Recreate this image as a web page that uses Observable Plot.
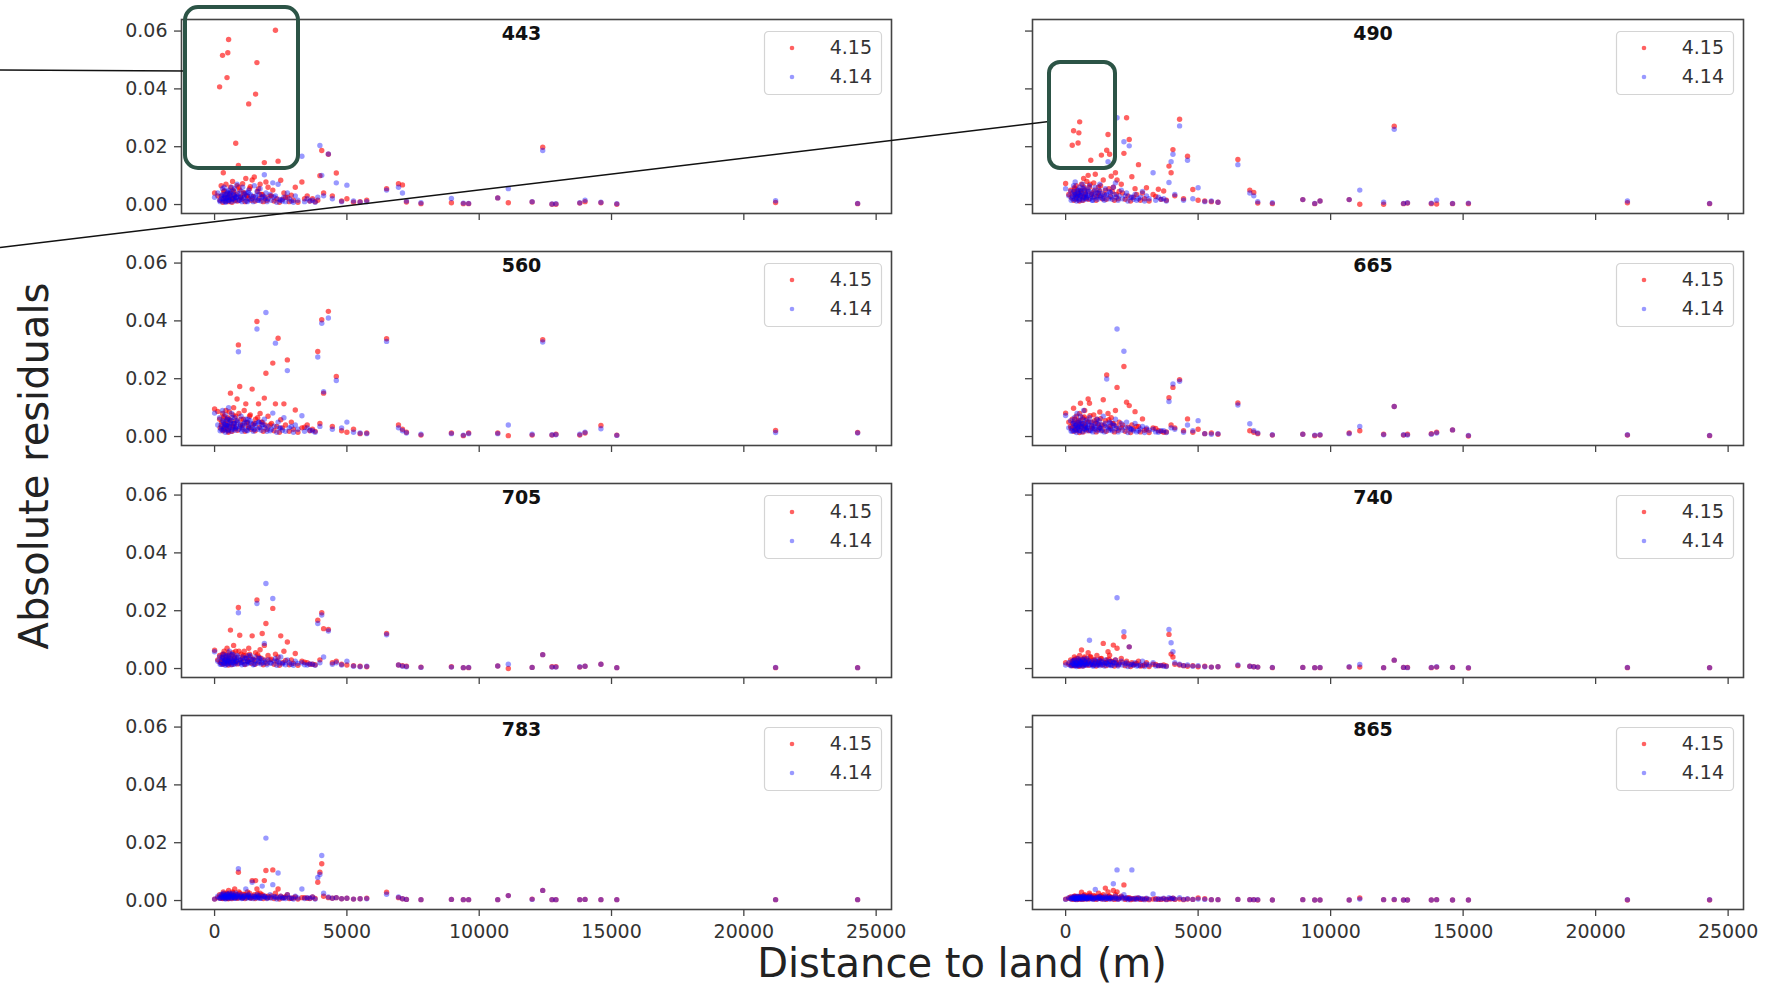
<!DOCTYPE html>
<html>
<head>
<meta charset="utf-8">
<script src="https://cdn.jsdelivr.net/npm/d3@7"></script>
<script src="https://cdn.jsdelivr.net/npm/@observablehq/plot@0.6"></script>
<style>
  body { margin: 0; background: #fff; }
  #fig { position: relative; width: 1775px; height: 989px; overflow: hidden; background: #fff; font-family: "DejaVu Sans", sans-serif; }
  .panel { position: absolute; }
  .panel svg { display: block; max-width: none !important; }
  #overlay { position: absolute; left: 0; top: 0; pointer-events: none; }
</style>
</head>
<body>
<div id="fig"></div>
<script>
// ---------------- data ----------------
// Distance to land (m) of each match-up station (shared by all panels)
const distance = [0,120,190,250,300,330,360,400,430,470,500,530,560,600,640,680,720,760,800,850,
  900,950,1000,1060,1120,1180,1240,1290,1350,1420,1500,1550,1600,1660,1720,1800,1880,1940,2020,2100,
  2200,2300,2400,2500,2620,2750,2900,3050,3300,3500,3700,3900,3980,4050,4120,4300,4450,4600,4800,5000,
  5250,5500,5750,6500,6950,7100,7250,7800,8950,9400,9600,10700,11100,12000,12400,12750,12900,13800,14000,14600,
  15200,21200,24300,
  210,270,310,350,380,410,450,490,520,550,580,620,660,700,740,780,820,870,920,980,
  1030,1090,1150,1210,1270,1320,1380,1460,1530,1630,1690,1760,1840,1910,1980,2150,2250,2350,2450,2560,
  2680,2820,2980,3150,3400,3600,3800];

const bands = ["443","490","560","665","705","740","783","865"];
const seriesNames = ["4.15","4.14"];
const seriesColors = ["rgba(255,0,0,0.62)","rgba(0,0,255,0.40)"];

// Absolute residuals, version 4.15 (red) and 4.14 (blue), per band (same station order as distance)
const v415_443 = [.0040,.0030,.0407,.0065,.0516,.0110,.0048,.0025,.0070,.0439,
  .0525,.0571,.0035,.0060,.0020,.0080,.0045,.0030,.0212,.0065,
  .0135,.0050,.0025,.0072,.0040,.0090,.0030,.0348,.0062,.0085,
  .0095,.0382,.0491,.0055,.0070,.0035,.0145,.0078,.0060,.0030,
  .0050,.0603,.0150,.0084,.0040,.0025,.0032,.0060,.0078,.0030,
  .0020,.0015,.0100,.0187,.0040,.0174,.0030,.0109,.0012,.0020,
  .0008,.0010,.0015,.0055,.0072,.0068,.0009,.0003,.0006,.0003,
  .0003,.0023,.0006,.0009,.0198,.0001,.0001,.0005,.0010,.0006,
  .0001,.0007,.0003,
  .0015,.0030,.0008,.0045,.0020,.0012,.0035,.0025,.0010,.0040,
  .0018,.0028,.0008,.0050,.0022,.0015,.0035,.0012,.0060,.0025,
  .0018,.0040,.0010,.0030,.0022,.0055,.0015,.0028,.0012,.0045,
  .0020,.0035,.0010,.0025,.0015,.0030,.0012,.0020,.0008,.0018,
  .0025,.0010,.0015,.0008,.0020,.0012,.0010];
const v414_443 = [.0025,.0040,.0015,.0030,.0055,.0020,.0060,.0035,.0010,.0045,
  .0025,.0050,.0015,.0040,.0060,.0020,.0035,.0055,.0025,.0070,
  .0030,.0015,.0045,.0060,.0025,.0040,.0010,.0050,.0035,.0020,
  .0065,.0030,.0045,.0015,.0055,.0025,.0103,.0040,.0020,.0035,
  .0075,.0030,.0070,.0015,.0025,.0040,.0012,.0030,.0167,.0020,
  .0015,.0025,.0204,.0101,.0030,.0175,.0020,.0075,.0010,.0067,
  .0012,.0008,.0010,.0050,.0060,.0040,.0012,.0006,.0021,.0005,
  .0004,.0023,.0055,.0010,.0187,.0002,.0003,.0006,.0015,.0008,
  .0003,.0013,.0004,
  .0010,.0020,.0035,.0012,.0028,.0008,.0022,.0040,.0015,.0025,
  .0032,.0010,.0045,.0018,.0030,.0012,.0024,.0038,.0015,.0028,
  .0010,.0022,.0035,.0012,.0042,.0018,.0030,.0010,.0025,.0015,
  .0035,.0012,.0028,.0020,.0010,.0015,.0025,.0008,.0018,.0012,
  .0010,.0020,.0008,.0015,.0010,.0012,.0008];

const v415_490 = [.0073,.0035,.0050,.0205,.0255,.0058,.0040,.0065,.0030,.0213,
  .0248,.0286,.0045,.0070,.0025,.0090,.0050,.0035,.0080,.0101,
  .0060,.0153,.0040,.0075,.0105,.0030,.0060,.0045,.0171,.0085,
  .0050,.0188,.0242,.0174,.0098,.0060,.0110,.0085,.0045,.0070,
  .0177,.0300,.0225,.0096,.0055,.0138,.0040,.0058,.0035,.0053,
  .0047,.0133,.0110,.0190,.0030,.0295,.0020,.0167,.0052,.0015,
  .0012,.0010,.0008,.0156,.0050,.0042,.0005,.0003,.0017,.0003,
  .0012,.0017,.0001,.0001,.0271,.0003,.0005,.0003,.0002,.0003,
  .0003,.0006,.0003,
  .0025,.0040,.0015,.0055,.0030,.0020,.0045,.0035,.0012,.0050,
  .0028,.0038,.0015,.0060,.0030,.0022,.0045,.0018,.0070,.0035,
  .0025,.0050,.0015,.0040,.0030,.0065,.0020,.0035,.0018,.0055,
  .0028,.0045,.0015,.0035,.0020,.0040,.0018,.0030,.0012,.0025,
  .0035,.0015,.0020,.0012,.0028,.0018,.0015];
const v414_490 = [.0055,.0030,.0045,.0020,.0065,.0035,.0078,.0025,.0050,.0040,
  .0015,.0060,.0030,.0045,.0070,.0020,.0055,.0035,.0025,.0050,
  .0065,.0030,.0015,.0045,.0060,.0025,.0040,.0070,.0030,.0020,
  .0055,.0035,.0148,.0045,.0025,.0060,.0075,.0300,.0030,.0050,
  .0217,.0040,.0203,.0025,.0035,.0020,.0045,.0030,.0110,.0025,
  .0020,.0076,.0148,.0174,.0035,.0272,.0015,.0153,.0020,.0058,
  .0010,.0012,.0008,.0138,.0040,.0030,.0010,.0006,.0017,.0004,
  .0012,.0017,.0050,.0008,.0260,.0004,.0006,.0005,.0015,.0004,
  .0005,.0012,.0004,
  .0015,.0028,.0045,.0018,.0035,.0012,.0030,.0050,.0020,.0032,
  .0040,.0015,.0055,.0025,.0038,.0018,.0030,.0045,.0020,.0035,
  .0015,.0028,.0042,.0018,.0050,.0025,.0038,.0015,.0032,.0020,
  .0042,.0018,.0035,.0025,.0015,.0020,.0030,.0012,.0025,.0018,
  .0015,.0025,.0012,.0020,.0015,.0018,.0012];

const v415_560 = [.0095,.0087,.0060,.0040,.0080,.0025,.0070,.0045,.0090,.0030,
  .0065,.0020,.0085,.0150,.0055,.0035,.0100,.0045,.0070,.0130,
  .0317,.0173,.0060,.0040,.0090,.0113,.0050,.0030,.0075,.0164,
  .0045,.0060,.0398,.0113,.0080,.0050,.0133,.0219,.0070,.0040,
  .0254,.0113,.0340,.0058,.0113,.0265,.0050,.0092,.0030,.0040,
  .0025,.0294,.0045,.0404,.0150,.0433,.0035,.0208,.0020,.0015,
  .0025,.0010,.0012,.0338,.0040,.0025,.0015,.0005,.0012,.0003,
  .0012,.0012,.0003,.0005,.0335,.0005,.0008,.0005,.0012,.0038,
  .0005,.0021,.0014,
  .0030,.0050,.0020,.0065,.0035,.0025,.0055,.0040,.0015,.0060,
  .0032,.0045,.0018,.0075,.0035,.0028,.0055,.0022,.0080,.0040,
  .0030,.0060,.0018,.0048,.0035,.0070,.0025,.0042,.0020,.0065,
  .0032,.0050,.0018,.0040,.0025,.0045,.0020,.0035,.0015,.0030,
  .0040,.0018,.0025,.0015,.0032,.0020,.0018];
const v414_560 = [.0081,.0040,.0065,.0025,.0090,.0050,.0030,.0075,.0040,.0060,
  .0020,.0100,.0035,.0055,.0080,.0025,.0045,.0065,.0030,.0050,
  .0293,.0035,.0070,.0025,.0045,.0060,.0020,.0040,.0055,.0030,
  .0025,.0045,.0372,.0050,.0030,.0040,.0060,.0429,.0035,.0020,
  .0081,.0323,.0050,.0030,.0065,.0228,.0035,.0040,.0072,.0030,
  .0020,.0275,.0035,.0392,.0155,.0410,.0025,.0194,.0030,.0050,
  .0015,.0012,.0010,.0329,.0030,.0020,.0012,.0008,.0010,.0005,
  .0010,.0010,.0040,.0008,.0327,.0006,.0006,.0008,.0015,.0027,
  .0004,.0014,.0012,
  .0020,.0035,.0055,.0022,.0042,.0015,.0038,.0060,.0025,.0040,
  .0048,.0018,.0065,.0030,.0045,.0022,.0036,.0055,.0025,.0042,
  .0018,.0034,.0050,.0022,.0060,.0030,.0045,.0018,.0038,.0025,
  .0050,.0022,.0042,.0030,.0018,.0025,.0036,.0015,.0030,.0022,
  .0018,.0030,.0015,.0025,.0018,.0022,.0015];

const v415_665 = [.0081,.0050,.0035,.0060,.0098,.0030,.0045,.0070,.0025,.0055,
  .0040,.0080,.0115,.0030,.0065,.0045,.0090,.0035,.0060,.0130,
  .0115,.0050,.0030,.0075,.0045,.0060,.0025,.0085,.0040,.0127,
  .0055,.0213,.0080,.0035,.0065,.0045,.0090,.0170,.0050,.0030,
  .0242,.0119,.0107,.0040,.0086,.0035,.0061,.0025,.0030,.0020,
  .0015,.0134,.0040,.0170,.0030,.0197,.0020,.0061,.0015,.0025,
  .0010,.0012,.0008,.0116,.0020,.0015,.0010,.0005,.0008,.0003,
  .0005,.0012,.0020,.0008,.0104,.0005,.0008,.0010,.0015,.0023,
  .0002,.0005,.0003,
  .0028,.0045,.0018,.0060,.0032,.0022,.0050,.0038,.0014,.0055,
  .0030,.0042,.0016,.0068,.0032,.0025,.0050,.0020,.0072,.0036,
  .0028,.0055,.0016,.0044,.0032,.0062,.0022,.0038,.0018,.0058,
  .0028,.0045,.0016,.0036,.0022,.0040,.0018,.0032,.0014,.0026,
  .0035,.0016,.0022,.0014,.0028,.0018,.0016];
const v414_665 = [.0073,.0030,.0055,.0020,.0045,.0065,.0025,.0040,.0080,.0030,
  .0050,.0020,.0070,.0035,.0045,.0090,.0025,.0055,.0030,.0040,
  .0065,.0020,.0050,.0035,.0025,.0060,.0040,.0030,.0020,.0070,
  .0045,.0199,.0030,.0050,.0025,.0040,.0060,.0372,.0030,.0045,
  .0295,.0050,.0030,.0025,.0045,.0020,.0035,.0030,.0025,.0015,
  .0020,.0121,.0030,.0182,.0025,.0191,.0015,.0040,.0020,.0055,
  .0010,.0008,.0010,.0109,.0044,.0020,.0012,.0006,.0008,.0005,
  .0006,.0010,.0035,.0006,.0104,.0006,.0005,.0008,.0012,.0023,
  .0004,.0006,.0004,
  .0018,.0032,.0050,.0020,.0038,.0014,.0034,.0055,.0022,.0036,
  .0044,.0016,.0060,.0028,.0040,.0020,.0032,.0050,.0022,.0038,
  .0016,.0030,.0046,.0020,.0055,.0028,.0040,.0016,.0034,.0022,
  .0046,.0020,.0038,.0028,.0016,.0022,.0032,.0014,.0026,.0020,
  .0016,.0026,.0014,.0022,.0016,.0020,.0014];

const v415_705 = [.0063,.0030,.0045,.0020,.0050,.0035,.0060,.0025,.0040,.0070,
  .0030,.0055,.0020,.0133,.0045,.0030,.0080,.0040,.0060,.0025,
  .0211,.0115,.0050,.0035,.0060,.0045,.0025,.0070,.0040,.0113,
  .0030,.0055,.0237,.0040,.0065,.0121,.0080,.0156,.0045,.0030,
  .0208,.0050,.0040,.0113,.0060,.0092,.0030,.0052,.0025,.0020,
  .0015,.0167,.0030,.0193,.0138,.0135,.0020,.0025,.0015,.0012,
  .0010,.0008,.0006,.0121,.0012,.0010,.0008,.0005,.0006,.0003,
  .0003,.0009,.0000,.0004,.0048,.0006,.0006,.0005,.0008,.0015,
  .0003,.0003,.0003,
  .0022,.0038,.0015,.0050,.0026,.0018,.0042,.0030,.0012,.0046,
  .0024,.0034,.0014,.0055,.0026,.0020,.0040,.0016,.0060,.0030,
  .0022,.0045,.0014,.0036,.0026,.0050,.0018,.0032,.0015,.0048,
  .0022,.0036,.0013,.0030,.0018,.0032,.0015,.0026,.0011,.0020,
  .0028,.0013,.0018,.0011,.0022,.0015,.0013];
const v414_705 = [.0058,.0025,.0040,.0015,.0035,.0050,.0020,.0030,.0045,.0015,
  .0025,.0040,.0060,.0020,.0030,.0050,.0015,.0035,.0025,.0045,
  .0193,.0030,.0020,.0040,.0015,.0035,.0025,.0020,.0045,.0030,
  .0015,.0040,.0225,.0025,.0035,.0020,.0087,.0294,.0030,.0020,
  .0242,.0035,.0025,.0040,.0020,.0030,.0015,.0025,.0020,.0012,
  .0015,.0156,.0020,.0185,.0040,.0130,.0015,.0020,.0012,.0025,
  .0008,.0006,.0008,.0117,.0012,.0008,.0006,.0004,.0005,.0003,
  .0004,.0009,.0015,.0004,.0048,.0005,.0005,.0006,.0008,.0015,
  .0003,.0004,.0003,
  .0015,.0026,.0040,.0016,.0030,.0011,.0026,.0044,.0018,.0028,
  .0035,.0013,.0048,.0022,.0032,.0016,.0026,.0040,.0018,.0030,
  .0013,.0024,.0036,.0016,.0044,.0022,.0032,.0013,.0027,.0018,
  .0036,.0016,.0030,.0022,.0013,.0018,.0026,.0011,.0020,.0016,
  .0013,.0020,.0011,.0018,.0013,.0016,.0011];

const v415_740 = [.0020,.0015,.0030,.0010,.0025,.0040,.0015,.0020,.0035,.0010,
  .0025,.0045,.0020,.0064,.0030,.0015,.0040,.0020,.0030,.0055,
  .0025,.0040,.0015,.0030,.0020,.0045,.0015,.0025,.0035,.0087,
  .0020,.0030,.0058,.0046,.0025,.0081,.0030,.0070,.0020,.0035,
  .0110,.0025,.0075,.0020,.0015,.0025,.0010,.0020,.0015,.0010,
  .0012,.0118,.0050,.0040,.0015,.0012,.0010,.0008,.0010,.0006,
  .0008,.0005,.0006,.0010,.0008,.0006,.0005,.0003,.0004,.0003,
  .0003,.0005,.0005,.0003,.0029,.0004,.0004,.0003,.0005,.0004,
  .0002,.0003,.0003,
  .0014,.0025,.0010,.0032,.0017,.0012,.0028,.0020,.0008,.0030,
  .0016,.0022,.0009,.0036,.0017,.0013,.0026,.0011,.0040,.0020,
  .0014,.0030,.0009,.0024,.0017,.0034,.0012,.0021,.0010,.0032,
  .0014,.0024,.0009,.0020,.0012,.0021,.0010,.0017,.0007,.0013,
  .0018,.0009,.0012,.0007,.0014,.0010,.0009];
const v414_740 = [.0012,.0020,.0010,.0025,.0015,.0030,.0010,.0020,.0015,.0035,
  .0010,.0025,.0015,.0020,.0030,.0010,.0025,.0015,.0035,.0020,
  .0098,.0015,.0025,.0010,.0030,.0015,.0020,.0010,.0025,.0015,
  .0030,.0020,.0015,.0025,.0010,.0020,.0030,.0245,.0015,.0025,
  .0127,.0020,.0075,.0015,.0020,.0010,.0025,.0015,.0020,.0010,
  .0008,.0135,.0089,.0058,.0020,.0015,.0010,.0012,.0008,.0010,
  .0006,.0005,.0006,.0012,.0008,.0006,.0005,.0004,.0004,.0003,
  .0004,.0006,.0014,.0003,.0029,.0004,.0003,.0004,.0006,.0004,
  .0003,.0004,.0003,
  .0010,.0017,.0027,.0011,.0020,.0007,.0017,.0030,.0012,.0019,
  .0023,.0009,.0032,.0015,.0021,.0011,.0017,.0027,.0012,.0020,
  .0009,.0016,.0024,.0011,.0030,.0015,.0021,.0009,.0018,.0012,
  .0024,.0011,.0020,.0015,.0009,.0012,.0017,.0007,.0013,.0011,
  .0009,.0013,.0007,.0012,.0009,.0011,.0007];

const v415_783 = [.0005,.0010,.0020,.0008,.0015,.0030,.0010,.0020,.0012,.0025,
  .0008,.0035,.0015,.0020,.0010,.0030,.0015,.0040,.0020,.0010,
  .0098,.0025,.0015,.0010,.0020,.0012,.0030,.0015,.0010,.0069,
  .0020,.0069,.0040,.0015,.0025,.0020,.0069,.0104,.0015,.0010,
  .0106,.0025,.0040,.0015,.0010,.0020,.0008,.0012,.0010,.0008,
  .0012,.0063,.0098,.0127,.0015,.0010,.0008,.0010,.0006,.0008,
  .0005,.0006,.0008,.0029,.0010,.0006,.0004,.0003,.0004,.0003,
  .0003,.0003,.0017,.0005,.0035,.0003,.0003,.0003,.0004,.0003,
  .0003,.0003,.0003,
  .0010,.0018,.0007,.0024,.0012,.0009,.0020,.0015,.0006,.0022,
  .0012,.0016,.0007,.0026,.0012,.0010,.0019,.0008,.0030,.0015,
  .0010,.0022,.0007,.0018,.0012,.0025,.0009,.0015,.0007,.0024,
  .0010,.0018,.0007,.0015,.0009,.0016,.0007,.0012,.0005,.0010,
  .0013,.0007,.0009,.0005,.0010,.0007,.0007];
const v414_783 = [.0005,.0015,.0008,.0020,.0010,.0025,.0012,.0018,.0008,.0022,
  .0010,.0015,.0025,.0010,.0020,.0012,.0018,.0008,.0025,.0015,
  .0110,.0012,.0020,.0008,.0015,.0040,.0012,.0018,.0008,.0063,
  .0015,.0010,.0020,.0012,.0008,.0050,.0015,.0216,.0010,.0020,
  .0055,.0012,.0095,.0015,.0010,.0020,.0008,.0015,.0040,.0010,
  .0012,.0080,.0090,.0156,.0025,.0012,.0008,.0010,.0006,.0008,
  .0005,.0006,.0006,.0022,.0012,.0006,.0004,.0003,.0004,.0003,
  .0003,.0003,.0017,.0004,.0035,.0003,.0003,.0003,.0004,.0003,
  .0003,.0003,.0003,
  .0008,.0013,.0020,.0008,.0015,.0005,.0013,.0022,.0009,.0014,
  .0017,.0007,.0024,.0011,.0016,.0008,.0013,.0020,.0009,.0015,
  .0007,.0012,.0018,.0008,.0022,.0011,.0016,.0007,.0013,.0009,
  .0018,.0008,.0015,.0011,.0007,.0009,.0013,.0005,.0010,.0008,
  .0007,.0010,.0005,.0009,.0007,.0008,.0005];

const v415_865 = [.0005,.0008,.0012,.0006,.0010,.0015,.0008,.0012,.0005,.0010,
  .0008,.0015,.0010,.0029,.0008,.0012,.0020,.0010,.0015,.0008,
  .0025,.0012,.0010,.0018,.0008,.0012,.0025,.0010,.0015,.0020,
  .0043,.0012,.0030,.0015,.0010,.0035,.0020,.0030,.0010,.0015,
  .0054,.0008,.0010,.0006,.0005,.0008,.0005,.0006,.0005,.0004,
  .0006,.0005,.0006,.0008,.0004,.0005,.0003,.0005,.0004,.0009,
  .0006,.0003,.0003,.0004,.0003,.0003,.0002,.0002,.0003,.0002,
  .0002,.0002,.0009,.0003,.0003,.0002,.0002,.0002,.0003,.0002,
  .0002,.0002,.0002,
  .0006,.0011,.0004,.0015,.0008,.0005,.0012,.0009,.0004,.0014,
  .0007,.0010,.0004,.0017,.0008,.0006,.0012,.0005,.0019,.0009,
  .0006,.0014,.0004,.0011,.0008,.0016,.0005,.0010,.0004,.0015,
  .0006,.0011,.0004,.0009,.0005,.0010,.0004,.0008,.0003,.0006,
  .0008,.0004,.0005,.0003,.0006,.0004,.0004];
const v414_865 = [.0004,.0010,.0006,.0012,.0008,.0005,.0012,.0008,.0015,.0006,
  .0010,.0008,.0012,.0006,.0010,.0015,.0008,.0012,.0006,.0010,
  .0015,.0008,.0012,.0006,.0038,.0010,.0008,.0012,.0006,.0010,
  .0015,.0008,.0012,.0006,.0010,.0058,.0015,.0106,.0008,.0012,
  .0020,.0010,.0006,.0106,.0008,.0010,.0006,.0008,.0023,.0006,
  .0008,.0010,.0006,.0008,.0005,.0010,.0004,.0006,.0004,.0005,
  .0004,.0003,.0003,.0004,.0003,.0003,.0003,.0002,.0003,.0002,
  .0002,.0002,.0005,.0003,.0004,.0002,.0002,.0002,.0003,.0002,
  .0002,.0003,.0003,
  .0005,.0008,.0012,.0005,.0009,.0003,.0008,.0014,.0006,.0009,
  .0011,.0004,.0015,.0007,.0010,.0005,.0008,.0012,.0006,.0009,
  .0004,.0008,.0011,.0005,.0014,.0007,.0010,.0004,.0008,.0006,
  .0011,.0005,.0009,.0007,.0004,.0006,.0008,.0003,.0006,.0005,
  .0004,.0006,.0003,.0005,.0004,.0005,.0003];

const xTicks = [0,5000,10000,15000,20000,25000];
const yTicks = [0,0.02,0.04,0.06];
const xLabel = "Distance to land (m)";
const yLabel = "Absolute residuals";

// ---------------- layout ----------------
const series415 = [v415_443,v415_490,v415_560,v415_665,v415_705,v415_740,v415_783,v415_865];
const series414 = [v414_443,v414_490,v414_560,v414_665,v414_705,v414_740,v414_783,v414_865];

const colLeft = [181, 1032], colW = [710, 711];
const rowTop = [19, 251, 483, 715], frameH = 194;
const mL = 80, mR = 12, mT = 12, mB = 46;
const xDomain = [-1250, 25580], yDomain = [-0.0031, 0.0640];
const fig = document.getElementById("fig");

bands.forEach((band, i) => {
  const col = i % 2, row = Math.floor(i / 2);
  const showX = row === 3, showY = col === 0;
  const d415 = distance.map((d, k) => ({d, r: series415[i][k]}));
  const d414 = distance.map((d, k) => ({d, r: series414[i][k]}));
  const w = colW[col];
  const svg = Plot.plot({
    width: mL + w + mR,
    height: mT + frameH + mB,
    marginLeft: mL, marginRight: mR, marginTop: mT, marginBottom: mB,
    x: {domain: xDomain},
    y: {domain: yDomain},
    style: {fontFamily: "DejaVu Sans, sans-serif", fontSize: "19px", color: "#333", background: "transparent", overflow: "visible"},
    marks: [
      Plot.dot(d415, {x: "d", y: "r", r: 2.7, fill: seriesColors[0]}),
      Plot.dot(d414, {x: "d", y: "r", r: 2.7, fill: seriesColors[1]}),
      Plot.frame({stroke: "#444", strokeWidth: 1.6}),
      Plot.axisX({ticks: xTicks, tickSize: 7, tickPadding: 8, stroke: "#444", strokeWidth: 1.3,
                  tickFormat: showX ? (d => String(d)) : (() => ""), label: null, fontSize: 19, fill: "#333"}),
      Plot.axisY({ticks: yTicks, tickSize: 7, tickPadding: 7, stroke: "#444", strokeWidth: 1.3,
                  tickFormat: showY ? (d => d.toFixed(2)) : (() => ""), label: null, fontSize: 19, fill: "#333"}),
      Plot.text([band], {frameAnchor: "top", dx: -15, dy: 14, lineAnchor: "middle",
                         fontWeight: "bold", fontSize: 19, fill: "#111"})
    ]
  });
  const div = document.createElement("div");
  div.className = "panel";
  div.style.left = (colLeft[col] - mL) + "px";
  div.style.top = (rowTop[row] - mT) + "px";
  div.style.width = (mL + w + mR) + "px";
  div.appendChild(svg);
  fig.appendChild(div);
});

// ---------------- overlay: legends, axis titles, annotations ----------------
const ov = d3.select(fig).append("svg").attr("id", "overlay")
  .attr("width", 1775).attr("height", 989)
  .style("font-family", "DejaVu Sans, sans-serif");

bands.forEach((band, i) => {
  const col = i % 2, row = Math.floor(i / 2);
  const right = colLeft[col] + colW[col] - 9, top = rowTop[row] + 12;
  const g = ov.append("g").attr("transform", `translate(${right - 118},${top})`);
  g.append("rect").attr("x", 0.5).attr("y", 0.5).attr("width", 117).attr("height", 63)
    .attr("rx", 4).attr("fill", "rgba(255,255,255,0.8)").attr("stroke", "#d4d4d4").attr("stroke-width", 1.2);
  seriesNames.forEach((name, s) => {
    const cy = 17 + s * 29;
    g.append("circle").attr("cx", 28).attr("cy", cy).attr("r", 2.3).attr("fill", seriesColors[s]);
    g.append("text").attr("x", 108).attr("y", cy + 5.5).attr("text-anchor", "end")
      .attr("font-size", 19).attr("fill", "#333").text(name);
  });
});

ov.append("text").attr("transform", "translate(48,466) rotate(-90)").attr("text-anchor", "middle")
  .attr("font-size", 40).attr("fill", "#222").text(yLabel);
ov.append("text").attr("x", 962).attr("y", 977).attr("text-anchor", "middle")
  .attr("font-size", 40).attr("fill", "#222").text(xLabel);

// annotation callouts (highlight boxes and leader lines)
ov.append("line").attr("x1", 0).attr("y1", 70).attr("x2", 185).attr("y2", 71)
  .attr("stroke", "#111").attr("stroke-width", 1.5);
ov.append("line").attr("x1", 0).attr("y1", 247.5).attr("x2", 1049).attr("y2", 121.5)
  .attr("stroke", "#111").attr("stroke-width", 1.5);
ov.append("rect").attr("x", 185).attr("y", 7).attr("width", 113).attr("height", 161).attr("rx", 13)
  .attr("fill", "none").attr("stroke", "#2c5446").attr("stroke-width", 4);
ov.append("rect").attr("x", 1049).attr("y", 62).attr("width", 66).attr("height", 106).attr("rx", 11)
  .attr("fill", "none").attr("stroke", "#2c5446").attr("stroke-width", 4);
</script>
</body>
</html>
